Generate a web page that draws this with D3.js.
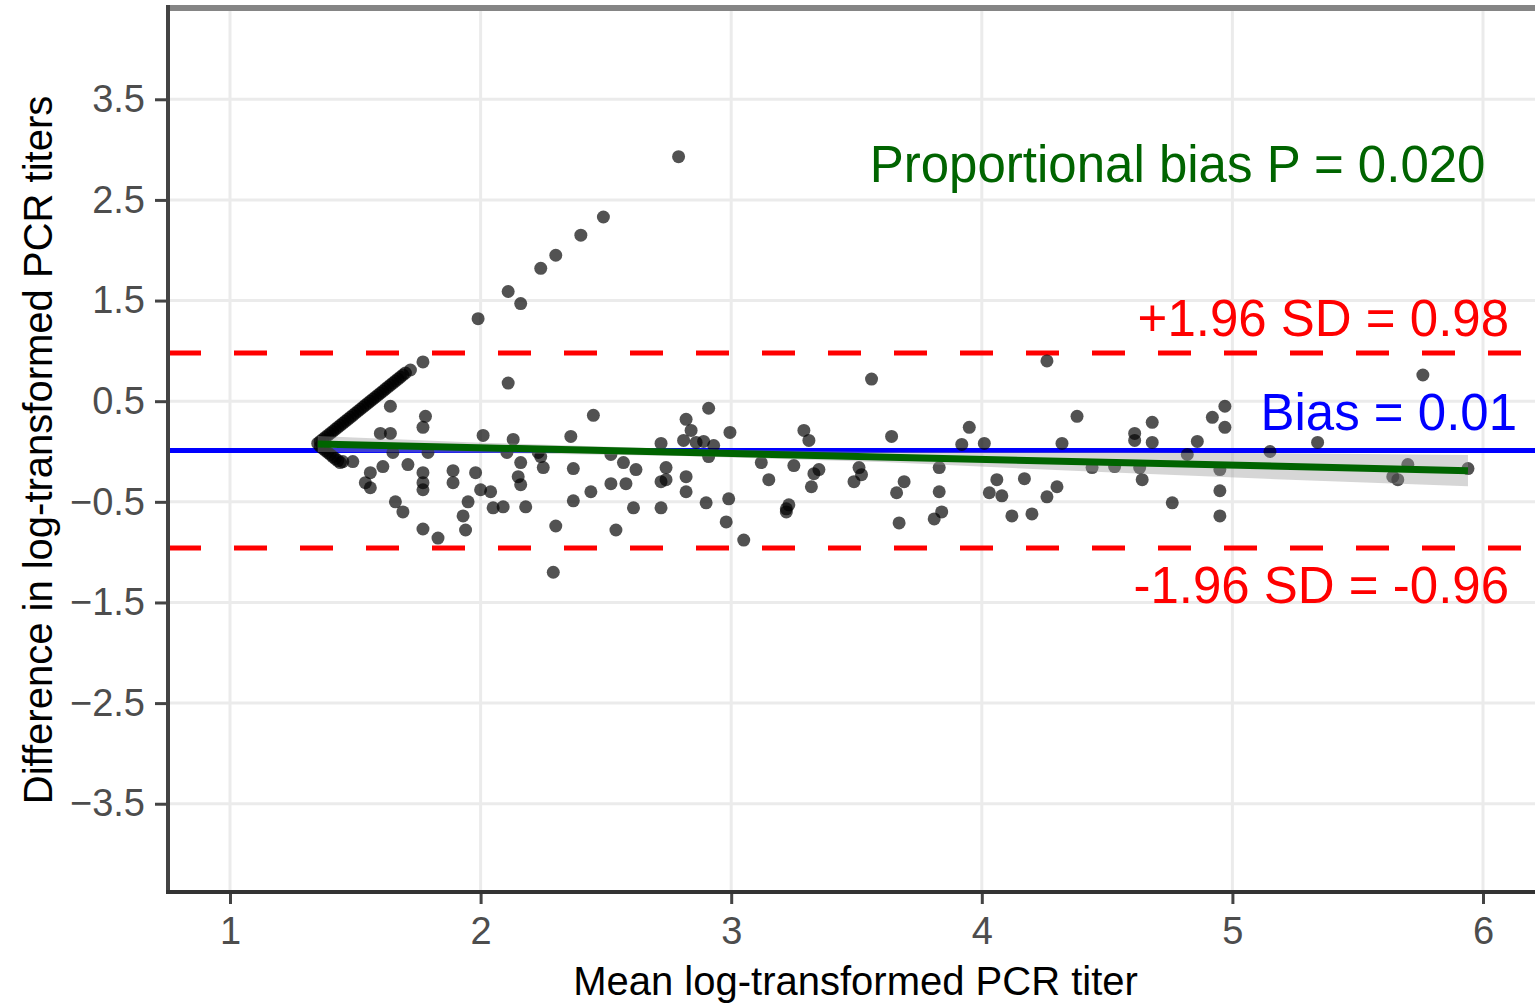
<!DOCTYPE html>
<html>
<head>
<meta charset="utf-8">
<script src="https://cdn.jsdelivr.net/npm/d3@7"></script>
<style>
  html, body { margin: 0; padding: 0; background: #fff; }
  svg { display: block; font-family: "Liberation Sans", Arial, sans-serif; }
</style>
</head>
<body>
<svg id="chart" width="1535" height="1006"></svg>
<script>
// ---- Axis ticks ----
const xTicks = [1, 2, 3, 4, 5, 6];
const xTickLabels = ["1", "2", "3", "4", "5", "6"];
const yTicks = [3.5, 2.5, 1.5, 0.5, -0.5, -1.5, -2.5, -3.5];
const yTickLabels = ["3.5", "2.5", "1.5", "0.5", "\u22120.5", "\u22121.5", "\u22122.5", "\u22123.5"];

// ---- Bland-Altman summary ----
const biasValue = 0.01;
const upperLoA = 0.98;
const lowerLoA = -0.96;
const proportionalP = "0.020";

// ---- Per-sample mean and difference of log-transformed PCR titers ----
const meanTiter = [
  // samples at the detection limit of one assay (dense diagonal)
  1.35, 1.36, 1.37, 1.38, 1.39, 1.40, 1.41, 1.42, 1.43, 1.44, 1.45, 1.46, 1.47, 1.48, 1.49,
  1.50, 1.51, 1.52, 1.53, 1.54, 1.55, 1.56, 1.57, 1.58, 1.59, 1.60, 1.61, 1.62, 1.63, 1.64,
  1.65, 1.66, 1.67, 1.68, 1.69, 1.70, 1.72,
  1.36, 1.37, 1.38, 1.39, 1.40, 1.41, 1.42, 1.43, 1.44,
  // remaining samples
  2.79, 2.49, 2.40, 2.30, 2.24, 2.11, 2.16, 1.99, 1.77, 2.11, 2.45,
  1.64, 1.78, 1.77, 1.60, 1.64, 2.01, 2.13, 2.36, 2.72, 2.82, 2.91, 2.81, 2.86, 2.84, 2.93, 2.995,
  1.65, 1.79, 2.105, 2.23,
  1.71, 1.61, 1.56, 1.54, 1.56, 1.45, 1.49,
  1.77, 1.77, 1.77, 1.89, 1.89, 1.98, 2.00, 2.04,
  2.16, 2.15, 2.16, 2.24, 2.25, 2.37,
  2.52, 2.57, 2.62, 2.74, 2.91,
  2.72, 2.74, 2.82, 2.82, 2.52, 2.58, 2.44, 2.37,
  2.61, 2.72, 2.90, 2.54, 2.30, 2.29,
  1.66, 1.69, 1.77, 1.83, 1.93, 1.94, 1.95, 2.05, 2.09, 2.18,
  3.56, 4.26, 2.89, 3.29, 3.31, 3.64, 3.95, 3.92, 4.01, 4.32, 4.38,
  3.12, 3.25, 3.35, 3.33, 3.32, 3.51, 3.52, 3.49, 3.15,
  2.99, 2.98, 3.05, 3.23, 3.22, 3.22,
  3.69, 3.66, 3.67, 3.83, 3.83, 3.84, 3.81,
  4.06, 4.03, 4.08, 4.17, 4.12, 4.20, 4.30, 4.26, 4.44,
  4.61, 4.61, 4.68, 4.68, 4.64, 4.53, 4.63, 4.76, 4.86, 4.92, 4.97, 4.97,
  4.95, 4.95, 4.95, 4.82, 5.34, 5.15, 5.76, 5.64, 5.66, 5.70, 5.94
];
const diffTiter = [
  0.08, 0.10, 0.12, 0.14, 0.16, 0.18, 0.20, 0.22, 0.24, 0.26, 0.28, 0.30, 0.32, 0.34, 0.36,
  0.38, 0.40, 0.42, 0.44, 0.46, 0.48, 0.50, 0.52, 0.54, 0.56, 0.58, 0.60, 0.62, 0.64, 0.66,
  0.68, 0.70, 0.72, 0.74, 0.76, 0.78, 0.81,
  0.05, 0.03, 0.01, -0.01, -0.03, -0.05, -0.07, -0.09, -0.11,
  2.93, 2.33, 2.15, 1.95, 1.82, 1.59, 1.47, 1.32, 0.89, 0.68, 0.36,
  0.45, 0.35, 0.24, 0.18, 0.18, 0.16, 0.12, 0.15, 0.08, 0.32, 0.43, 0.11, 0.09, 0.21, 0.06, 0.19,
  -0.01, -0.01, -0.01, -0.01,
  -0.13, -0.15, -0.21, -0.31, -0.36, -0.10, -0.10,
  -0.21, -0.31, -0.38, -0.19, -0.31, -0.21, -0.38, -0.40,
  -0.11, -0.25, -0.33, -0.05, -0.16, -0.17,
  -0.03, -0.11, -0.18, -0.16, -0.05,
  -0.30, -0.28, -0.25, -0.40, -0.32, -0.32, -0.40, -0.49,
  -0.56, -0.56, -0.51, -0.78, -0.74, -1.20,
  -0.50, -0.60, -0.77, -0.86, -0.64, -0.78, -0.50, -0.56, -0.55, -0.55,
  0.72, 0.90, 0.10, 0.21, 0.11, 0.15, 0.24, 0.07, 0.08, 0.08, 0.35,
  -0.11, -0.14, -0.18, -0.22, -0.35, -0.16, -0.23, -0.30, -0.28,
  -0.47, -0.70, -0.88, -0.53, -0.60, -0.57,
  -0.30, -0.41, -0.71, -0.16, -0.40, -0.60, -0.67,
  -0.28, -0.41, -0.44, -0.27, -0.64, -0.62, -0.35, -0.45, -0.16,
  0.18, 0.11, 0.29, 0.09, -0.28, -0.15, -0.16, -0.51, 0.10, 0.34, 0.45, 0.24,
  -0.18, -0.39, -0.64, -0.03, 0.09, 0.00, 0.76, -0.25, -0.28, -0.13, -0.17
];

// ---- Linear fit of difference on mean, with its confidence band ----
const fitX = [1.35, 5.94];
const fitY = [0.075, -0.19];
const bandX = [1.35, 2.0, 2.8, 3.6, 4.5, 5.2, 5.94];
const bandLow = [-0.005, -0.0125, -0.044, -0.105, -0.207, -0.277, -0.345];
const bandHigh = [0.155, 0.0875, 0.026, -0.005, -0.007, -0.017, -0.035];

// ---- Layout ----
const panel = { left: 168, right: 1543, top: 8, bottom: 892 };
const svg = d3.select("#chart");

const x = d3.scaleLinear().domain([0.7526, 6.2394]).range([panel.left, panel.right]);
const y = d3.scaleLinear().domain([-4.377, 4.407]).range([panel.bottom, panel.top]);

svg.append("defs").append("clipPath").attr("id", "panelClip")
  .append("rect")
  .attr("x", panel.left).attr("y", panel.top)
  .attr("width", panel.right - panel.left).attr("height", panel.bottom - panel.top);

const plot = svg.append("g").attr("clip-path", "url(#panelClip)");

// grid
plot.append("g").selectAll("line").data(xTicks).join("line")
  .attr("x1", d => x(d)).attr("x2", d => x(d))
  .attr("y1", panel.top).attr("y2", panel.bottom)
  .attr("stroke", "#ebebeb").attr("stroke-width", 3);
plot.append("g").selectAll("line").data(yTicks).join("line")
  .attr("x1", panel.left).attr("x2", panel.right)
  .attr("y1", d => y(d)).attr("y2", d => y(d))
  .attr("stroke", "#ebebeb").attr("stroke-width", 3);

// limits of agreement and bias
plot.append("g").selectAll("line").data([upperLoA, lowerLoA]).join("line")
  .attr("x1", panel.left).attr("x2", panel.right)
  .attr("y1", d => y(d)).attr("y2", d => y(d))
  .attr("stroke", "#ff0000").attr("stroke-width", 5)
  .attr("stroke-dasharray", "33 33");
plot.append("line")
  .attr("x1", panel.left).attr("x2", panel.right)
  .attr("y1", y(biasValue)).attr("y2", y(biasValue))
  .attr("stroke", "#0000ff").attr("stroke-width", 5);

// samples
plot.append("g").selectAll("circle").data(d3.range(meanTiter.length)).join("circle")
  .attr("cx", i => x(meanTiter[i]))
  .attr("cy", i => y(diffTiter[i]))
  .attr("r", 6.5)
  .attr("fill", "#000")
  .attr("fill-opacity", 0.68);

// regression band and line
const band = d3.area()
  .x((d, i) => x(bandX[i]))
  .y0((d, i) => y(bandLow[i]))
  .y1((d, i) => y(bandHigh[i]));
plot.append("path").datum(bandX).attr("d", band)
  .attr("fill", "#999999").attr("fill-opacity", 0.4);
plot.append("path").datum(fitX)
  .attr("d", d3.line().x((d, i) => x(fitX[i])).y((d, i) => y(fitY[i])))
  .attr("fill", "none").attr("stroke", "#006400").attr("stroke-width", 7);

// panel frame: grey top edge, dark axis lines
svg.append("line")
  .attr("x1", panel.left).attr("x2", panel.right)
  .attr("y1", panel.top).attr("y2", panel.top)
  .attr("stroke", "#858585").attr("stroke-width", 6);

// axes
const xAxis = svg.append("g")
  .attr("transform", `translate(0,${panel.bottom})`)
  .call(d3.axisBottom(x).tickValues(xTicks)
    .tickFormat((d, i) => xTickLabels[i]).tickSize(12).tickPadding(13));
const yAxis = svg.append("g")
  .attr("transform", `translate(${panel.left},0)`)
  .call(d3.axisLeft(y).tickValues(yTicks)
    .tickFormat((d, i) => yTickLabels[i]).tickSize(13).tickPadding(10));

[xAxis, yAxis].forEach(g => {
  g.select(".domain").remove();
  g.selectAll(".tick line").attr("stroke", "#444").attr("stroke-width", 3);
  g.selectAll(".tick text")
    .attr("fill", "#4d4d4d")
    .style("font-family", "'Liberation Sans', Arial, sans-serif")
    .style("font-size", "38px");
});

svg.append("line")
  .attr("x1", panel.left).attr("x2", panel.left)
  .attr("y1", panel.top - 3).attr("y2", panel.bottom + 2)
  .attr("stroke", "#444").attr("stroke-width", 4);
svg.append("line")
  .attr("x1", panel.left - 2).attr("x2", panel.right)
  .attr("y1", panel.bottom).attr("y2", panel.bottom)
  .attr("stroke", "#333").attr("stroke-width", 4);

// axis titles
svg.append("text")
  .attr("x", (panel.left + panel.right) / 2).attr("y", 995)
  .attr("text-anchor", "middle")
  .style("font-size", "40px").attr("fill", "#000")
  .text("Mean log-transformed PCR titer");
svg.append("text")
  .attr("transform", `translate(52,${(panel.top + panel.bottom) / 2}) rotate(-90)`)
  .attr("text-anchor", "middle")
  .style("font-size", "40px").attr("fill", "#000")
  .text("Difference in log-transformed PCR titers");

// annotations
const notes = [
  { text: `Proportional bias P = ${proportionalP}`, ax: 6.010, ay: 2.68, color: "#006400" },
  { text: `+1.96 SD = ${upperLoA.toFixed(2)}`, ax: 6.104, ay: 1.148, color: "#ff0000" },
  { text: `Bias = ${biasValue.toFixed(2)}`, ax: 6.136, ay: 0.214, color: "#0000ff" },
  { text: `-1.96 SD = ${lowerLoA.toFixed(2)}`, ax: 6.104, ay: -1.506, color: "#ff0000" }
];
svg.append("g").selectAll("text").data(notes).join("text")
  .attr("x", d => x(d.ax)).attr("y", d => y(d.ay))
  .attr("text-anchor", "end")
  .style("font-size", "51px")
  .attr("fill", d => d.color)
  .text(d => d.text);
</script>
</body>
</html>
